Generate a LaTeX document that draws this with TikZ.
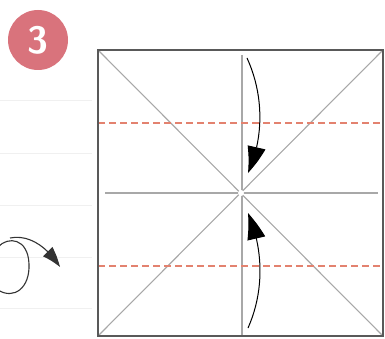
\documentclass[tikz,border=0pt]{standalone}
\usetikzlibrary{arrows.meta, bending, positioning}
\definecolor{badgered}{HTML}{D9737C}
\definecolor{foldred}{HTML}{E3826F}
\definecolor{creasegray}{HTML}{A8A8A8}
\definecolor{edgegray}{HTML}{595959}
\definecolor{rulegray}{HTML}{F0F0F0}
\tikzset{
  crease/.style={creasegray, line width=1.1pt},
  valley/.style={foldred, line width=1.6pt, dash pattern=on 7pt off 4pt},
  foldarrow/.style={black, line width=1pt, -{Triangle[length=27pt, width=18pt, bend]}},
  turnarrow/.style={black!80, line width=1.1pt},
}
\begin{document}
\begin{tikzpicture}[x=1pt, y=-1pt]
			\useasboundingbox (0,0) rectangle (385,339);
			% Ruled paper lines:
			\foreach \yy in {100,153,205,257,308}
				\draw[rulegray, line width=0.8pt] (0,\yy) -- (92,\yy);
			% Step badge:
			\node[circle, fill=badgered, minimum size=60pt, inner sep=0pt, text=white, font=\sffamily\bfseries\fontsize{38}{38}\selectfont] (badge) at (38,40) {3};
			% Paper square and creases:
			\coordinate (NW) at (98,50);
			\coordinate (NE) at (383,50);
			\coordinate (SE) at (383,336);
			\coordinate (SW) at (98,336);
			\coordinate (C) at (241,193);
			\draw[crease] (NW) -- (SE);
			\draw[crease] (NE) -- (SW);
			\draw[crease] (105,193) -- (378,193);
			\draw[crease] (242,55) -- (242,336);
			\fill[white] (C) circle (3);
			\draw[valley] (98,123) -- (383,123);
			\draw[valley] (98,266) -- (383,266);
			\draw[edgegray, line width=2pt] (NW) rectangle (SE);
			% Fold arrows:
			\draw[foldarrow] (247,58) .. controls (264,95) and (264,138) .. (248,173);
			\draw[foldarrow] (248,328) .. controls (264,292) and (264,250) .. (248,213);
			% Turn over:
			\draw[turnarrow] (-2,247) .. controls (8,236) and (28,238) .. (29,264) .. controls (30,288) and (14,300) .. (-2,290);
			\draw[turnarrow, -{Triangle[length=20pt, width=13pt, bend]}] (10,238) .. controls (30,234) and (48,248) .. (60,267);
		\end{tikzpicture}
\end{document}
